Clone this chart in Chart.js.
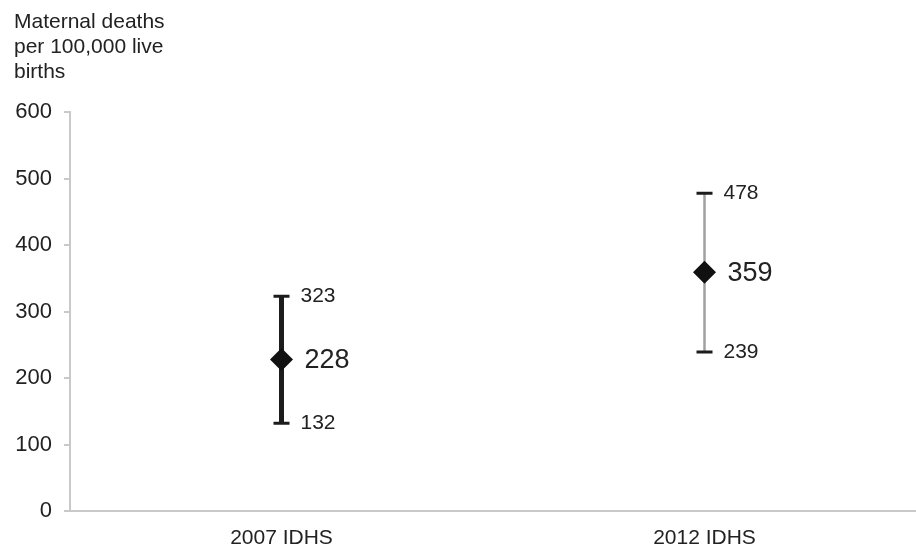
<!DOCTYPE html>
<html>
<head>
<meta charset="utf-8">
<script src="https://cdn.jsdelivr.net/npm/chart.js@4/dist/chart.umd.min.js"></script>
<style>
  html, body { margin: 0; padding: 0; background: #ffffff; overflow: hidden; }
  canvas { display: block; }
</style>
</head>
<body>
<canvas id="c" width="916" height="549" style="width:916px;height:549px"></canvas>
<script>
// ---- data ----
const categories = ['2007 IDHS', '2012 IDHS'];
const estimates = [228, 359];
const lowerBounds = [132, 239];
const upperBounds = [323, 478];
const axisTitleLines = ['Maternal deaths', 'per 100,000 live', 'births'];

// ---- styles (not data) ----
const barStyles = [
  { lineWidth: 5, lineColor: '#1c1c1c', capColor: '#1c1c1c' },
  { lineWidth: 2.5, lineColor: '#a0a0a0', capColor: '#1c1c1c' }
];
const FONT = "'Liberation Sans', Arial, Helvetica, sans-serif";
const textColor = '#222222';
const axisColor = '#c9c9c9';

const errorBarPlugin = {
  id: 'errorBars',
  beforeDatasetsDraw(chart) {
    const ctx = chart.ctx;
    const xs = chart.scales.x, ys = chart.scales.y;
    ctx.save();
    categories.forEach((cat, i) => {
      const x = xs.getPixelForValue(i);
      const yl = ys.getPixelForValue(lowerBounds[i]);
      const yu = ys.getPixelForValue(upperBounds[i]);
      const st = barStyles[i];
      ctx.strokeStyle = st.lineColor;
      ctx.lineWidth = st.lineWidth;
      ctx.beginPath();
      ctx.moveTo(x, yu);
      ctx.lineTo(x, yl);
      ctx.stroke();
      ctx.strokeStyle = st.capColor;
      ctx.lineWidth = 3;
      ctx.beginPath();
      ctx.moveTo(x - 8, yu); ctx.lineTo(x + 8, yu);
      ctx.moveTo(x - 8, yl); ctx.lineTo(x + 8, yl);
      ctx.stroke();
    });
    ctx.restore();
  },
  afterDatasetsDraw(chart) {
    const ctx = chart.ctx;
    const xs = chart.scales.x, ys = chart.scales.y;
    ctx.save();
    ctx.fillStyle = textColor;
    ctx.textBaseline = 'middle';
    ctx.textAlign = 'left';
    categories.forEach((cat, i) => {
      const x = xs.getPixelForValue(i);
      ctx.font = '21px ' + FONT;
      ctx.fillText(String(upperBounds[i]), x + 19, ys.getPixelForValue(upperBounds[i]));
      ctx.fillText(String(lowerBounds[i]), x + 19, ys.getPixelForValue(lowerBounds[i]));
      ctx.font = '27px ' + FONT;
      ctx.fillText(String(estimates[i]), x + 23, ys.getPixelForValue(estimates[i]) + 1);
    });
    // axis title (top-left)
    ctx.font = '21px ' + FONT;
    ctx.textBaseline = 'alphabetic';
    axisTitleLines.forEach((line, k) => {
      ctx.fillText(line, 14, 28 + k * 25);
    });
    ctx.restore();
  }
};

new Chart(document.getElementById('c'), {
  type: 'line',
  data: {
    labels: categories,
    datasets: [{
      data: estimates,
      showLine: false,
      pointStyle: 'rectRot',
      pointRadius: 11.5,
      pointHoverRadius: 11.5,
      backgroundColor: '#111111',
      borderColor: '#111111',
      borderWidth: 0
    }]
  },
  options: {
    responsive: false,
    maintainAspectRatio: false,
    devicePixelRatio: 1,
    animation: false,
    events: [],
    layout: { autoPadding: false, padding: { top: 112, left: 15, right: 0, bottom: 0 } },
    plugins: {
      legend: { display: false },
      tooltip: { enabled: false },
      title: { display: false }
    },
    scales: {
      x: {
        type: 'category',
        offset: true,
        grid: { display: false, drawTicks: false },
        border: { display: true, color: axisColor, width: 2 },
        ticks: { color: textColor, font: { family: FONT, size: 21 }, padding: 15, maxRotation: 0 },
        afterFit(scale) { scale.height = 38; scale.paddingLeft = 0; scale.paddingRight = 0; }
      },
      y: {
        min: 0,
        max: 600,
        ticks: { stepSize: 100, color: textColor, font: { family: FONT, size: 22 }, padding: 12 },
        grid: { display: true, drawOnChartArea: false, drawTicks: true, tickLength: 6, color: axisColor, lineWidth: 2 },
        border: { display: true, color: axisColor, width: 2 },
        afterFit(scale) { scale.width = 55; scale.paddingTop = 0; scale.paddingBottom = 0; }
      }
    }
  },
  plugins: [errorBarPlugin]
});
</script>
</body>
</html>
